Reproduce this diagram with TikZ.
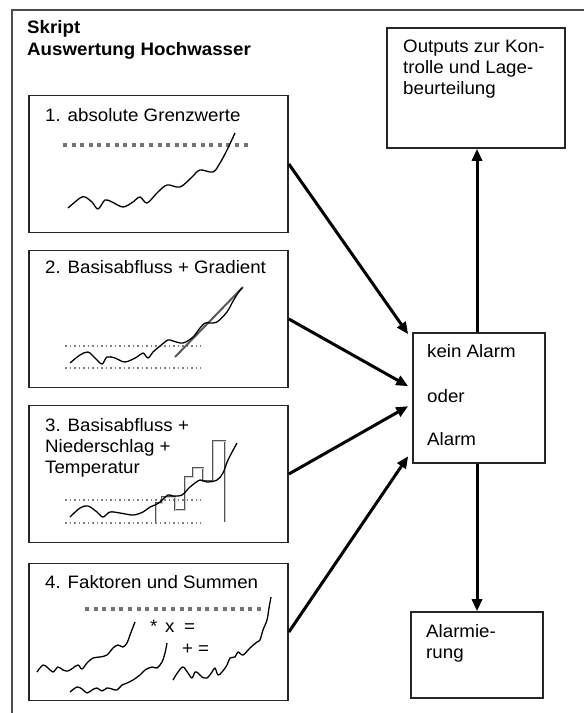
\documentclass[tikz,border=0pt]{standalone}
\usepackage{fontspec}
\setmainfont{Liberation Sans}[FakeStretch=1.04]
\usetikzlibrary{arrows.meta,calc}
\begin{document}
\begin{tikzpicture}[x=1pt,y=-1pt,
  panel/.style={draw=black!85,line width=1.7pt,minimum width=259pt,minimum height=137pt,inner sep=0pt},
  obox/.style={draw=black!85,line width=1.6pt,inner sep=0pt},
  lbl/.style={anchor=base west,inner sep=0pt,font=\fontsize{18}{21}\selectfont},
  ttl/.style={anchor=base west,inner sep=0pt,font=\fontsize{18}{21}\selectfont\bfseries},
  arr/.style={line width=3pt,-{Triangle[length=12pt,width=10pt]}},
  curve/.style={line width=1.3pt,black,line join=round},
  bigdots/.style={gray!90!black,line width=3.6pt,dash pattern=on 4pt off 4.6pt},
  smalldots/.style={gray,line width=1.6pt,dash pattern=on 1.6pt off 2.9pt},
  grayline/.style={gray!70!black,line width=2pt},
  stepline/.style={draw=gray!65!black,line width=0.9pt,double=gray!40,double distance=0.9pt}
]
\useasboundingbox (0,0) rectangle (584,713);
% outer frame
\draw[gray!60!black,line width=1.5pt] (12,713) -- (12,10) -- (584,10);

% title
\node[ttl] (t0a) at (27,33) {Skript};
\node[ttl] (t0b) at (27,55) {Auswertung Hochwasser};

% panels
\node[panel] (p1) at (158.5,164) {};
\node[panel] (p2) at (158.5,319) {};
\node[panel] (p3) at (158.5,474) {};
\node[panel] (p4) at (158.5,632) {};

% right boxes
\node[obox,minimum width=178pt,minimum height=120pt] (out) at (476,88) {};
\node[obox,minimum width=132pt,minimum height=130pt] (alarm) at (479,398) {};
\node[obox,minimum width=132pt,minimum height=86pt] (alm) at (477,655) {};

% panel labels
\node[lbl] (t1) at (45,121) {1. absolute Grenzwerte};
\node[lbl] (t2) at (45,273) {2. Basisabfluss + Gradient};
\node[lbl] (t3a) at (45,431) {3. Basisabfluss +};
\node[lbl] (t3b) at (45,452) {Niederschlag +};
\node[lbl] (t3c) at (45,473) {Temperatur};
\node[lbl] (t4) at (45,588) {4. Faktoren und Summen};

% right texts
\node[lbl] (o1) at (403,52) {Outputs zur Kon-};
\node[lbl] (o2) at (403,73) {trolle und Lage-};
\node[lbl] (o3) at (403,94) {beurteilung};
\node[lbl] (a1) at (427,357) {kein Alarm};
\node[lbl] (a2) at (427,402) {oder};
\node[lbl] (a3) at (427,445) {Alarm};
\node[lbl] (m1) at (426,637) {Alarmie-};
\node[lbl] (m2) at (426,658) {rung};

% panel 1 graph
\draw[bigdots] (63,145) -- (248,145);
\draw[curve] plot[smooth,tension=0.55] coordinates {(68,208) (80,198) (85,197) (92,202) (98,209) (105,200) (112,202) (123,207) (133,202) (140,197) (147,203) (157,193) (167,185) (180,187) (192,177) (200,170) (213,172) (220,163) (227,150) (235,133)};

% panel 2 graph
\draw[smalldots] (65,346) -- (201,346);
\draw[smalldots] (65,368) -- (201,368);
\draw[grayline] (175,357) -- (243,287);
\draw[curve] plot[smooth,tension=0.55] coordinates {(70,363) (80,355) (88,352) (95,358) (102,364) (107,357) (115,358) (125,362) (137,357) (143,353) (148,358) (153,352) (160,346) (168,340) (173,341) (183,343) (193,337) (200,328) (205,323) (210,323) (217,322) (227,312) (232,303) (238,293) (242,288)};

% panel 3 graph
\draw[smalldots] (65,500) -- (201,500);
\draw[smalldots] (65,523) -- (201,523);
\draw[stepline] (156,522) -- (156,503) -- (162,503) -- (162,497) -- (175,497) -- (175,510) -- (185,510) -- (185,477) -- (193,477) -- (193,468) -- (203,468) -- (203,481) -- (213,481) -- (213,441) -- (225,441) -- (225,522);
\draw[curve] plot[smooth,tension=0.55] coordinates {(70,517) (80,508) (88,506) (97,512) (103,517) (110,512) (120,513) (133,515) (143,512) (150,507) (155,505) (160,502) (168,495) (173,496) (182,495) (190,487) (200,480) (207,482) (217,480) (223,473) (228,460) (237,443)};

% panel 4 graph
\draw[bigdots] (85,609) -- (264,609);
\draw[curve] plot[smooth,tension=0.55] coordinates {(37,672) (43,665) (48,668) (53,672) (58,667) (63,670) (68,671) (73,668) (78,665) (82,669) (87,663) (93,658) (100,657) (107,655) (113,648) (118,645) (123,647) (127,643) (130,635) (135,622)};
\draw[curve] plot[smooth,tension=0.55] coordinates {(70,692) (77,687) (82,689) (87,693) (92,690) (97,688) (102,691) (107,688) (112,689) (117,690) (122,685) (127,683) (133,680) (140,675) (145,670) (152,667) (157,668) (162,662) (165,653) (167,643)};
\draw[curve] plot[smooth,tension=0.55] coordinates {(173,680) (178,672) (183,667) (188,673) (192,678) (195,672) (198,673) (202,677) (207,678) (212,672) (215,668) (218,675) (222,672) (227,665) (230,658) (235,657) (238,652) (243,655) (250,648) (257,642) (260,640) (263,630) (267,620) (269,608) (271,597)};
\node[lbl] (s1) at (150,632) {*};
\node[lbl] (s2) at (165,632) {x};
\node[lbl] (s3) at (184,632) {=};
\node[lbl] (s4) at (182,654) {+};
\node[lbl] (s5) at (198,654) {=};

% arrows
\draw[arr] (p1.east) -- ([shift={(-4,2)}]alarm.north west);
\draw[arr] (p2.east) -- ([shift={(-4,54)}]alarm.north west);
\draw[arr] (p3.east) -- ([shift={(-4,74)}]alarm.north west);
\draw[arr] (p4.east) -- ([shift={(-4,124)}]alarm.north west);
\coordinate (vx) at (477,0);
\draw[arr] (alarm.north -| vx) -- (out.south -| vx);
\draw[arr] (alarm.south -| vx) -- (alm.north -| vx);
\end{tikzpicture}
\end{document}
